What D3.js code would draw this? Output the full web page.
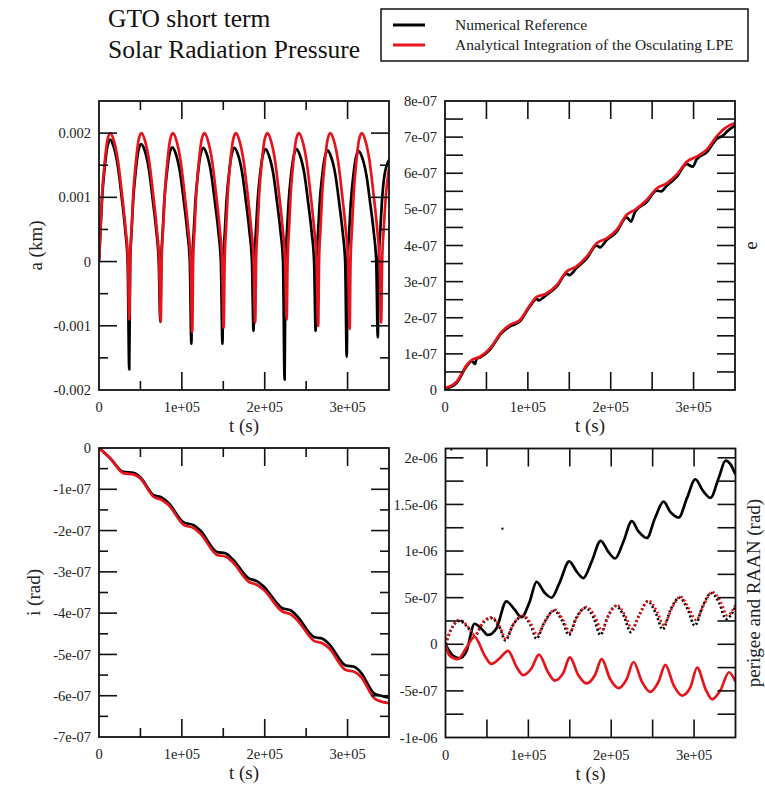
<!DOCTYPE html>
<html>
<head>
<meta charset="utf-8">
<script src="https://cdn.jsdelivr.net/npm/d3@7"></script>
<style>
  body { margin: 0; background: #fff; }
  svg { display: block; font-family: "Liberation Serif", "Times New Roman", serif; }
</style>
</head>
<body>
<svg id="chart" width="765" height="787"></svg>
<script>
// ---- time axis (seconds) shared by all four panels ----
const tDomain = [0, 350000];
const tMajor = [0, 100000, 200000, 300000];
const tMajorLabels = ["0", "1e+05", "2e+05", "3e+05"];
const tMinor = [50000, 150000, 250000];

// ---- semi-major axis change, units of 1e-3 km ----
const aMajor = [-2, -1, 0, 1, 2];
const aMajorLabels = ["-0.002", "-0.001", "0", "0.001", "0.002"];
const aMinor = [-1.5, -0.5, 0.5, 1.5];
const aNumerical = [
  [0,0],[1850,0.49],[3750,0.99],[7000,1.48],[10250,1.80],[13600,1.90],[17350,1.80],[22800,1.48],[27500,0.99],[31650,0.49],[34600,0],[36500,-1.68],
  [37600,0],[39350,0.48],[41250,0.95],[44500,1.43],[47750,1.74],[51100,1.83],[54850,1.74],[60300,1.43],[65000,0.95],[69150,0.48],[72100,0],[74000,-0.94],
  [75100,0],[76850,0.46],[78750,0.93],[82000,1.39],[85250,1.69],[88600,1.78],[92350,1.69],[97800,1.39],[102500,0.93],[106650,0.46],[109600,0],[111500,-1.28],
  [112600,0],[114350,0.46],[116250,0.92],[119500,1.38],[122750,1.68],[126100,1.77],[129850,1.68],[135300,1.38],[140000,0.92],[144150,0.46],[147100,0],[149000,-1.28],
  [150100,0],[151850,0.46],[153750,0.92],[157000,1.38],[160250,1.68],[163600,1.77],[167350,1.68],[172800,1.38],[177500,0.92],[181650,0.46],[184600,0],[186500,-1.08],
  [187600,0],[189350,0.46],[191250,0.91],[194500,1.37],[197750,1.66],[201100,1.75],[204850,1.66],[210300,1.37],[215000,0.91],[219150,0.46],[222100,0],[224000,-1.84],
  [225100,0],[226850,0.46],[228750,0.91],[232000,1.37],[235250,1.66],[238600,1.75],[242350,1.66],[247800,1.37],[252500,0.91],[256650,0.46],[259600,0],[261500,-1.08],
  [262600,0],[264350,0.45],[266250,0.90],[269500,1.35],[272750,1.64],[276100,1.73],[279850,1.64],[285300,1.35],[290000,0.90],[294150,0.45],[297100,0],[299000,-1.48],
  [300100,0],[301850,0.45],[303750,0.89],[307000,1.34],[310250,1.63],[313600,1.72],[317350,1.63],[322800,1.34],[327500,0.89],[331650,0.45],[334600,0],[336500,-1.18],
  [337600,0],[339350,0.45],[341250,0.89],[344500,1.34],[350000,1.58]
];
const aAnalytical = [
  [0,0],[1800,0.52],[3700,1.04],[7000,1.56],[10300,1.90],[13700,2.00],[17500,1.90],[23000,1.56],[27800,1.04],[32000,0.52],[35000,0],[36500,-0.90],
  [37600,0],[39400,0.52],[41300,1.04],[44600,1.56],[47900,1.90],[51300,2.00],[55100,1.90],[60600,1.56],[65400,1.04],[69600,0.52],[72600,0],[74500,-0.93],
  [75600,0],[77400,0.52],[79300,1.04],[82600,1.56],[85900,1.90],[89300,2.00],[93100,1.90],[98600,1.56],[103400,1.04],[107600,0.52],[110600,0],[112500,-1.10],
  [113600,0],[115400,0.52],[117300,1.04],[120600,1.56],[123900,1.90],[127300,2.00],[131100,1.90],[136600,1.56],[141400,1.04],[145600,0.52],[148600,0],[150500,-1.03],
  [151600,0],[153400,0.52],[155300,1.04],[158600,1.56],[161900,1.90],[165300,2.00],[169100,1.90],[174600,1.56],[179400,1.04],[183600,0.52],[186600,0],[188500,-0.95],
  [189600,0],[191400,0.52],[193300,1.04],[196600,1.56],[199900,1.90],[203300,2.00],[207100,1.90],[212600,1.56],[217400,1.04],[221600,0.52],[224600,0],[226500,-0.90],
  [227600,0],[229400,0.52],[231300,1.04],[234600,1.56],[237900,1.90],[241300,2.00],[245100,1.90],[250600,1.56],[255400,1.04],[259600,0.52],[262600,0],[264500,-1.00],
  [265600,0],[267400,0.52],[269300,1.04],[272600,1.56],[275900,1.90],[279300,2.00],[283100,1.90],[288600,1.56],[293400,1.04],[297600,0.52],[300600,0],[302500,-1.05],
  [303600,0],[305400,0.52],[307300,1.04],[310600,1.56],[313900,1.90],[317300,2.00],[321100,1.90],[326600,1.56],[331400,1.04],[335600,0.52],[338600,0],[340500,-0.95],
  [341700,0],[343700,0.52],[346300,1.04],[350000,1.45]
];

// ---- eccentricity change, units of 1e-7 ----
const eMajor = [0, 1, 2, 3, 4, 5, 6, 7, 8];
const eMajorLabels = ["0", "1e-07", "2e-07", "3e-07", "4e-07", "5e-07", "6e-07", "7e-07", "8e-07"];
const eMinor = [0.5, 1.5, 2.5, 3.5, 4.5, 5.5, 6.5, 7.5];
const eNumerical = [
  [0,0.03],[14100,0.20],[26200,0.66],[32200,0.80],[36200,0.72],[38000,0.86],[42200,0.90],[54300,1.12],[68400,1.58],
  [78400,1.76],[90500,1.90],[102600,2.32],[110700,2.52],[113000,2.48],[120700,2.60],[134800,2.86],[146800,3.22],
  [150000,3.18],[158900,3.38],[171000,3.64],[183000,4.00],[187000,3.95],[195100,4.15],[207200,4.38],[219300,4.78],
  [224500,4.66],[229300,4.93],[243400,5.20],[255500,5.52],[261000,5.50],[267500,5.65],[279600,5.90],[291700,6.25],
  [299000,6.18],[303700,6.38],[315800,6.58],[327900,6.95],[336000,7.05],[340000,7.15],[350000,7.32]
];
const eAnalytical = [
  [0,0.05],[14100,0.23],[26200,0.69],[32200,0.83],[42200,0.92],[54300,1.15],[68400,1.61],[78400,1.80],[90500,1.94],
  [102600,2.35],[110700,2.58],[120700,2.65],[134800,2.90],[146800,3.28],[158900,3.42],[171000,3.69],[183000,4.06],
  [195100,4.20],[207200,4.43],[219300,4.85],[229300,4.99],[243400,5.26],[255500,5.58],[267500,5.72],[279600,5.96],
  [291700,6.32],[303700,6.46],[315800,6.65],[327900,7.02],[337900,7.25],[350000,7.39]
];

// ---- inclination change, units of 1e-7 rad ----
const iMajor = [-7, -6, -5, -4, -3, -2, -1, 0];
const iMajorLabels = ["-7e-07", "-6e-07", "-5e-07", "-4e-07", "-3e-07", "-2e-07", "-1e-07", "0"];
const iMinor = [-6.5, -5.5, -4.5, -3.5, -2.5, -1.5, -0.5];
const iNumerical = [
  [0,0],[13300,-0.24],[29400,-0.58],[41500,-0.60],[49600,-0.70],[65800,-1.14],[75900,-1.20],[83900,-1.33],
  [102100,-1.80],[114200,-1.87],[122300,-2.00],[142500,-2.52],[152600,-2.55],[160700,-2.68],[180800,-3.16],
  [191000,-3.23],[199000,-3.36],[221300,-3.88],[231300,-3.93],[239400,-4.08],[259500,-4.58],[269700,-4.62],
  [277700,-4.75],[297900,-5.27],[308000,-5.30],[316100,-5.44],[332200,-5.95],[340300,-6.00],[350000,-6.05]
];
const iAnalytical = [
  [0,0],[13300,-0.25],[29400,-0.61],[41500,-0.64],[49600,-0.73],[65800,-1.18],[75900,-1.26],[83900,-1.38],
  [102100,-1.86],[114200,-1.94],[122300,-2.07],[142500,-2.59],[152600,-2.63],[160700,-2.75],[180800,-3.24],
  [191000,-3.32],[199000,-3.44],[221300,-3.96],[231300,-4.03],[239400,-4.17],[259500,-4.67],[269700,-4.73],
  [277700,-4.85],[297900,-5.38],[308000,-5.42],[316100,-5.54],[332200,-6.06],[340300,-6.14],[350000,-6.18]
];

// ---- argument of perigee and RAAN change, units of 1e-6 rad ----
const pMajor = [-1, -0.5, 0, 0.5, 1, 1.5, 2];
const pMajorLabels = ["-1e-06", "-5e-07", "0", "5e-07", "1e-06", "1.5e-06", "2e-06"];
const pMinor = [-0.75, -0.25, 0.25, 0.75, 1.25, 1.75];
const perigeeNumerical = [
  [0,0],[8800,-0.12],[17000,-0.15],[25000,-0.08],[35100,0.22],[43200,0.17],[51200,0.10],[61400,0.17],[73500,0.46],
  [83600,0.37],[91700,0.29],[101700,0.46],[109800,0.67],[119900,0.55],[128000,0.50],[138100,0.67],[149300,0.89],
  [158300,0.78],[166300,0.71],[176500,0.89],[187300,1.11],[196600,0.99],[204700,0.92],[214700,1.10],[224900,1.32],
  [232900,1.21],[243000,1.14],[253100,1.36],[263200,1.53],[271300,1.42],[281400,1.36],[291500,1.57],[301600,1.77],
  [309700,1.66],[319800,1.57],[329900,1.79],[338000,1.97],[344000,1.93],[350000,1.82]
];
const perigeeAnalytical = [
  [0,0],[4800,-0.12],[14900,-0.16],[25000,-0.04],[35100,0.08],[47200,-0.12],[55300,-0.21],[65400,-0.15],[75500,-0.07],
  [85600,-0.24],[93600,-0.33],[103700,-0.26],[112800,-0.11],[123800,-0.30],[131900,-0.39],[142000,-0.31],[150100,-0.14],
  [160200,-0.33],[170300,-0.42],[180400,-0.33],[188500,-0.16],[198600,-0.37],[208700,-0.47],[218800,-0.37],[226900,-0.19],
  [237000,-0.40],[247000,-0.51],[257200,-0.40],[265300,-0.22],[275400,-0.44],[285500,-0.55],[295600,-0.46],[303700,-0.25],
  [313800,-0.48],[321900,-0.59],[332000,-0.49],[342100,-0.30],[350000,-0.40]
];
const raanNumerical = [
  [0,0],[6900,0.16],[17000,0.25],[27100,0.18],[35100,0.09],[45200,0.23],[55300,0.28],[65400,0.18],[72300,0.04],
  [81000,0.20],[93000,0.30],[103000,0.20],[109800,0.06],[119000,0.23],[131000,0.36],[141000,0.25],[149000,0.10],
  [157000,0.27],[169000,0.39],[179000,0.28],[187000,0.10],[195500,0.29],[205500,0.41],[215500,0.30],[223500,0.13],
  [234000,0.32],[244000,0.46],[254000,0.33],[262000,0.16],[272000,0.38],[282500,0.50],[292500,0.37],[300800,0.20],
  [310500,0.41],[320800,0.55],[330500,0.44],[338500,0.27],[350000,0.40]
];
const raanAnalytical = [
  [0,0],[6900,0.17],[17000,0.26],[27100,0.19],[35100,0.10],[45200,0.24],[55300,0.29],[65400,0.19],[72700,0.06],
  [81500,0.21],[93600,0.31],[103700,0.21],[110500,0.10],[119900,0.24],[132000,0.37],[142000,0.26],[150100,0.13],
  [158100,0.28],[170300,0.40],[180400,0.30],[188500,0.15],[196500,0.30],[206700,0.42],[216800,0.31],[224900,0.17],
  [235000,0.33],[245100,0.47],[255200,0.35],[263200,0.21],[273400,0.39],[283500,0.51],[293500,0.39],[302400,0.26],
  [311600,0.42],[321800,0.56],[331900,0.46],[339900,0.31],[350000,0.42]
];
// isolated samples of the numerical perigee solution
const perigeeStray = [[7000, 2.09], [68700, 1.24]];

// ---- legend ----
const legendLabels = ["Numerical Reference", "Analytical Integration of the Osculating LPE"];
const seriesColors = ["#000000", "#e8141b"];

// ---------------------------------------------------------------
const svg = d3.select("#chart");
const W = 290, H = 289;

const panels = [
  { left: 99, top: 101, y: [-2, 2.5], major: aMajor, labels: aMajorLabels, minor: aMinor, minorLen: 9,
    title: "a (km)", titleX: 35, lines: [[aNumerical, 0, null], [aAnalytical, 1, null]] },
  { left: 445, top: 101, y: [0, 8], major: eMajor, labels: eMajorLabels, minor: eMinor, minorLen: 18,
    title: "e", titleX: 750, lines: [[eNumerical, 0, null], [eAnalytical, 1, null]] },
  { left: 99, top: 448, y: [-7, 0], major: iMajor, labels: iMajorLabels, minor: iMinor, minorLen: 9,
    title: "i (rad)", titleX: 33, lines: [[iNumerical, 0, null], [iAnalytical, 1, null]] },
  { left: 445.5, top: 448.5, y: [-1, 2.1], major: pMajor, labels: pMajorLabels, minor: pMinor, minorLen: 18,
    title: "perigee and RAAN (rad)", titleX: 753,
    lines: [[perigeeNumerical, 0, null], [raanNumerical, 0, "2,2.4"], [raanAnalytical, 1, "2,2.4"], [perigeeAnalytical, 1, null]],
    points: [[perigeeStray, 0]] }
];

const majorLen = 18;

panels.forEach((p, pi) => {
  const g = svg.append("g").attr("transform", `translate(${p.left},${p.top})`);
  const x = d3.scaleLinear().domain(tDomain).range([0, W]);
  const y = d3.scaleLinear().domain(p.y).range([H, 0]);

  g.append("defs").append("clipPath").attr("id", "clip" + pi)
    .append("rect").attr("x", 0).attr("y", 0).attr("width", W).attr("height", H);

  const line = d3.line().x(d => x(d[0])).y(d => y(d[1])).curve(d3.curveMonotoneX);
  const plot = g.append("g").attr("clip-path", `url(#clip${pi})`);
  p.lines.forEach(([data, ci, dash]) => {
    plot.append("path").datum(data)
      .attr("d", line)
      .attr("fill", "none")
      .attr("stroke", seriesColors[ci])
      .attr("stroke-width", dash ? 2.6 : 2.7)
      .attr("stroke-linejoin", "round")
      .attr("stroke-dasharray", dash);
  });
  (p.points || []).forEach(([data, ci]) => {
    plot.selectAll(null).data(data).enter().append("rect")
      .attr("x", d => x(d[0]) - 1).attr("y", d => y(d[1]) - 1)
      .attr("width", 2).attr("height", 2).attr("fill", seriesColors[ci]);
  });

  // ticks on all four sides, pointing inward
  const tk = g.append("g").attr("stroke", "#111").attr("stroke-width", 1.6);
  const hTick = (vals, len) => vals.forEach(v => {
    tk.append("line").attr("x1", x(v)).attr("x2", x(v)).attr("y1", H).attr("y2", H - len);
    tk.append("line").attr("x1", x(v)).attr("x2", x(v)).attr("y1", 0).attr("y2", len);
  });
  const vTick = (vals, len) => vals.forEach(v => {
    tk.append("line").attr("y1", y(v)).attr("y2", y(v)).attr("x1", 0).attr("x2", len);
    tk.append("line").attr("y1", y(v)).attr("y2", y(v)).attr("x1", W).attr("x2", W - len);
  });
  hTick(tMajor.filter(v => v > 0), majorLen);
  hTick(tMinor, p.minorLen);
  vTick(p.major.filter(v => v > p.y[0] && v < p.y[1]), majorLen);
  vTick(p.minor, p.minorLen);

  g.append("rect").attr("width", W).attr("height", H)
    .attr("fill", "none").attr("stroke", "#111").attr("stroke-width", 1.8);

  // tick labels
  const lab = g.append("g").attr("fill", "#222").attr("font-size", 14.5);
  tMajor.forEach((v, i) => {
    lab.append("text").attr("x", x(v)).attr("y", H + 22).attr("text-anchor", "middle").text(tMajorLabels[i]);
  });
  p.major.forEach((v, i) => {
    lab.append("text").attr("x", -8).attr("y", y(v)).attr("dy", "0.35em")
      .attr("text-anchor", "end").text(p.labels[i]);
  });

  // axis titles
  g.append("text").attr("x", W / 2).attr("y", H + 42).attr("text-anchor", "middle")
    .attr("font-size", 19).attr("fill", "#222").text("t (s)");
  g.append("text")
    .attr("transform", `translate(${p.titleX - p.left},${H / 2}) rotate(-90)`)
    .attr("text-anchor", "middle").attr("dy", "0.35em")
    .attr("font-size", 19).attr("fill", "#222").text(p.title);
});

// page title
svg.append("text").attr("x", 108).attr("y", 27).attr("font-size", 25.5).attr("fill", "#111").text("GTO short term");
svg.append("text").attr("x", 108).attr("y", 58).attr("font-size", 25.5).attr("fill", "#111").text("Solar Radiation Pressure");

// legend
const lg = svg.append("g");
lg.append("rect").attr("x", 381).attr("y", 9).attr("width", 367).attr("height", 52)
  .attr("fill", "#fff").attr("stroke", "#111").attr("stroke-width", 1.5);
legendLabels.forEach((t, i) => {
  const yy = 25 + i * 20;
  lg.append("line").attr("x1", 393).attr("x2", 425).attr("y1", yy).attr("y2", yy)
    .attr("stroke", seriesColors[i]).attr("stroke-width", 3);
  lg.append("text").attr("x", 455).attr("y", yy + 4.5).attr("font-size", 15.5).attr("fill", "#222").text(t);
});
</script>
</body>
</html>
